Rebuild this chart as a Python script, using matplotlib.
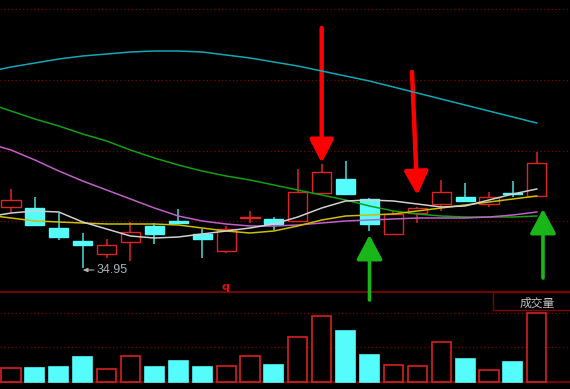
import matplotlib
matplotlib.use('Agg')
import matplotlib.pyplot as plt
import numpy as np
from matplotlib.patches import Rectangle

# daily candles
opens  = [36.17, 36.15, 35.75, 35.49, 35.23, 35.47, 35.79, 35.89, 35.63, 35.29, 35.95, 35.93,
          35.89, 36.45, 36.73, 36.33, 35.63, 36.05, 36.23, 36.37, 36.23, 36.45, 36.39]
highs  = [36.53, 36.37, 36.05, 35.65, 35.53, 35.87, 35.85, 36.13, 35.73, 35.79, 36.09, 35.97,
          36.93, 37.03, 37.09, 36.35, 36.11, 36.17, 36.71, 36.65, 36.47, 36.69, 37.27]
lows   = [36.07, 35.81, 35.51, 34.95, 35.15, 35.09, 35.43, 35.85, 35.15, 35.25, 35.85, 35.71,
          35.89, 36.45, 36.43, 35.69, 35.63, 35.85, 36.09, 36.29, 36.17, 36.37, 36.39]
closes = [36.31, 35.81, 35.57, 35.41, 35.41, 35.67, 35.63, 35.85, 35.53, 35.73, 35.97, 35.83,
          36.47, 36.87, 36.43, 35.83, 36.03, 36.15, 36.47, 36.29, 36.37, 36.43, 37.05]
volume = [1400, 1400, 1500, 2500, 1300, 2600, 1500, 2100, 1500, 1600, 2600, 1700,
          4500, 6600, 5100, 2700, 1700, 1600, 4000, 2300, 1200, 2000, 6900]

# moving averages, one value before the first candle
ma_x = np.arange(-1, 23)
ma5   = [35.97, 36.05, 36.09, 36.07, 35.87, 35.73, 35.59, 35.55, 35.57, 35.63, 35.69, 35.75,
         35.83, 35.97, 36.15, 36.29, 36.31, 36.29, 36.23, 36.17, 36.19, 36.31, 36.43, 36.53]
ma10  = [36.01, 35.95, 35.89, 35.87, 35.85, 35.83, 35.83, 35.83, 35.81, 35.75, 35.69, 35.65,
         35.69, 35.79, 35.91, 35.99, 36.01, 36.03, 36.09, 36.15, 36.21, 36.27, 36.33, 36.39]
ma30  = [37.45, 37.31, 37.11, 36.89, 36.69, 36.51, 36.33, 36.15, 35.99, 35.89, 35.83, 35.79,
         35.79, 35.81, 35.85, 35.89, 35.91, 35.93, 35.95, 35.95, 35.95, 35.97, 36.01, 36.07]
ma60  = [38.25, 38.09, 37.93, 37.79, 37.63, 37.49, 37.31, 37.15, 37.01, 36.89, 36.79, 36.71,
         36.61, 36.51, 36.41, 36.31, 36.19, 36.09, 36.03, 35.99, 35.97, 35.97, 35.97, 35.99]
ma120 = [38.87, 38.97, 39.05, 39.13, 39.19, 39.23, 39.27, 39.29, 39.29, 39.27, 39.21, 39.15,
         39.07, 38.99, 38.89, 38.79, 38.69, 38.57, 38.45, 38.33, 38.21, 38.09, 37.97, 37.85]

price_grid = [40.13, 38.71, 37.29, 35.89]
vol_grid = [3500, 6900]

RED = '#e02424'
CYAN = '#54fcfc'
GRID = '#7a0000'

o = np.array(opens); c = np.array(closes)
h = np.array(highs); l = np.array(lows)
x = np.arange(len(o))
up = c >= o

fig = plt.figure(figsize=(5.7, 3.89), dpi=100, facecolor='black')
ax_v = fig.add_axes([0, 6/389, 1, 93/389], facecolor='black')
ax_p = fig.add_axes([0, 97/389, 1, 292/389], facecolor='none', zorder=3)

for ax in (ax_p, ax_v):
    ax.set_xlim(-0.46, 23.39)
    for s in ax.spines.values():
        s.set_visible(False)
    ax.tick_params(length=0, labelleft=False, labelbottom=False)
    ax.set_xticks([])

# price panel
ax_p.set_ylim(34.47, 40.31)
ax_p.set_yticks(price_grid)
ax_p.grid(axis='y', color=GRID, linestyle=(0, (1, 2)), lw=0.9)

ax_p.vlines(x, l, h, colors=np.where(up, RED, '#48dcdc'), lw=1.1, zorder=2)
body = np.maximum(np.abs(c - o), 0.02)
ax_p.bar(x, body, bottom=np.minimum(o, c), width=0.8,
         facecolor=np.where(up, 'black', CYAN), edgecolor=np.where(up, RED, CYAN),
         lw=1.0, zorder=3)

ax_p.plot(ma_x, ma120, color='#16a6b6', lw=1.1, zorder=4)
ax_p.plot(ma_x, ma60, color='#12a012', lw=1.1, zorder=4)
ax_p.plot(ma_x, ma30, color='#c060c8', lw=1.1, zorder=4)
ax_p.plot(ma_x, ma10, color='#c8c000', lw=1.1, zorder=4)
ax_p.plot(ma_x, ma5, color='#d0d0d0', lw=1.1, zorder=4)

# lowest price marker
i_low = int(np.argmin(l))
ax_p.annotate(f'{l[i_low]:.2f}', xy=(i_low, l[i_low] - 0.04), xytext=(10, 0),
              textcoords='offset points', va='center', ha='left',
              fontsize=9, family='Liberation Sans', color='#a8b0b8',
              arrowprops=dict(arrowstyle='-|>,head_length=0.35,head_width=0.15',
                              color='#b0b0b0', lw=0.8, shrinkA=0, shrinkB=0, mutation_scale=8))

ax_p.text(0.395, 0.017, 'q', transform=ax_p.transAxes, color='#e01010',
          fontsize=8, ha='center', va='center', fontweight='bold')

# signal arrows
red_arrow = dict(arrowstyle='-|>,head_length=0.7,head_width=0.36', color='#ff0000',
                 lw=3.2, mutation_scale=20, shrinkA=0, shrinkB=0, capstyle='round')
ax_p.annotate('', xy=(13, 37.05), xytext=(13, 39.75), arrowprops=red_arrow, annotation_clip=False)
ax_p.annotate('', xy=(17, 36.41), xytext=(16.78, 38.87), arrowprops=red_arrow, annotation_clip=False)

green_arrow = dict(arrowstyle='-|>,head_length=0.75,head_width=0.4', color='#19b519',
                   lw=2.6, mutation_scale=20, shrinkA=0, shrinkB=0, capstyle='round')
ax_p.annotate('', xy=(15, 35.61), xytext=(15, 34.31), arrowprops=green_arrow, annotation_clip=False)
ax_p.annotate('', xy=(22.26, 36.13), xytext=(22.26, 34.75), arrowprops=green_arrow, annotation_clip=False)

# volume panel
ax_v.set_ylim(-100, 9200)
ax_v.set_yticks(vol_grid)
ax_v.grid(axis='y', color=GRID, linestyle=(0, (1, 2)), lw=0.9)
ax_v.bar(x, volume, width=0.8, facecolor=np.where(up, 'black', CYAN),
         edgecolor=np.where(up, '#d82020', CYAN), lw=1.2, zorder=3)
ax_v.axhline(9000, color='#800000', lw=1.3, zorder=2)
ax_v.axhline(0, color='#800000', lw=1.3, zorder=2)

ax_v.add_patch(Rectangle((493/570, 73/93), 0.2, 18/93, transform=ax_v.transAxes,
                         facecolor='black', edgecolor='#800000', lw=1.0, zorder=4))
ax_v.text(537/570, 0.855, '成交量', transform=ax_v.transAxes, ha='center', va='center',
          fontsize=8.5, family=['Noto Sans CJK SC', 'DejaVu Sans'], color='#c0c0c0', zorder=5)

fig.savefig('out.png', dpi=100, facecolor='black')
